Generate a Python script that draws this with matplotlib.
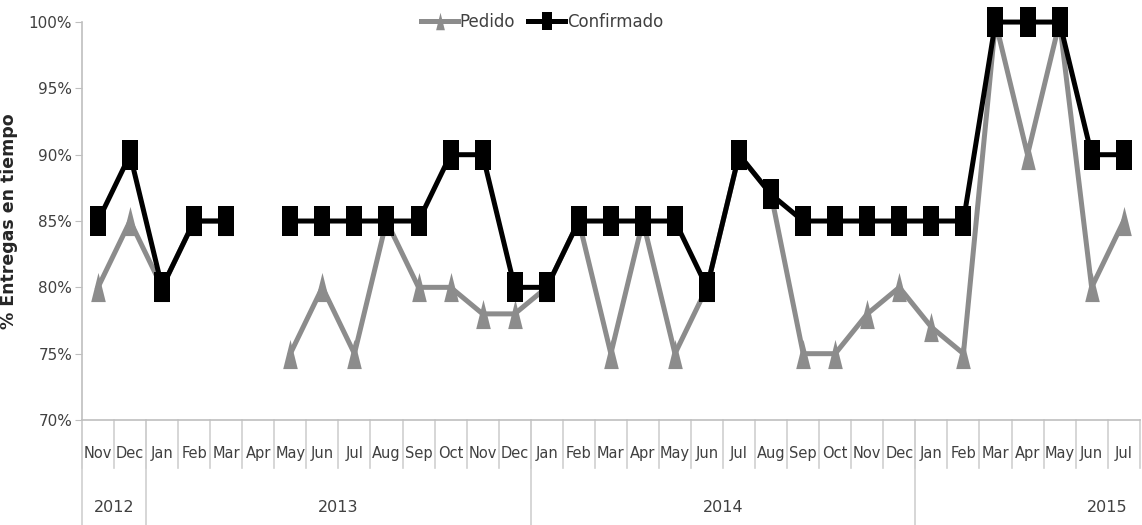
import numpy as np
import matplotlib.pyplot as plt
from matplotlib.transforms import blended_transform_factory

plt.rcParams['font.family'] = ['DejaVu Sans']

months = ['Nov', 'Dec',
          'Jan', 'Feb', 'Mar', 'Apr', 'May', 'Jun', 'Jul', 'Aug', 'Sep', 'Oct', 'Nov', 'Dec',
          'Jan', 'Feb', 'Mar', 'Apr', 'May', 'Jun', 'Jul', 'Aug', 'Sep', 'Oct', 'Nov', 'Dec',
          'Jan', 'Feb', 'Mar', 'Apr', 'May', 'Jun', 'Jul']
years = ['2012', '2013', '2014', '2015']
months_per_year = [2, 12, 12, 7]

nan = np.nan
pedido = [80, 85,
          80, 85, 85, nan, 75, 80, 75, 85, 80, 80, 78, 78,
          80, 85, 75, 85, 75, 80, 90, 87, 75, 75, 78, 80,
          77, 75, 100, 90, 100, 80, 85]
confirmado = [85, 90,
              80, 85, 85, nan, 85, 85, 85, 85, 85, 90, 90, 80,
              80, 85, 85, 85, 85, 80, 90, 87, 85, 85, 85, 85,
              85, 85, 100, 100, 100, 90, 90]

x = np.arange(len(months))

# tall rectangle / tall triangle markers
square_mk = [(-1, -2), (1, -2), (1, 2), (-1, 2), (-1, -2)]
tri_mk = [(-1, -2), (1, -2), (0, 2), (-1, -2)]

fig = plt.figure(figsize=(11.42, 5.25), dpi=100)
ax = fig.add_axes([0.0718, 0.2, 0.9262, 0.758])

ax.plot(x, pedido, color='#8c8c8c', lw=3.6, marker=tri_mk, ms=21,
        markeredgewidth=0, label='Pedido', zorder=2, clip_on=False)
ax.plot(x, confirmado, color='black', lw=3.6, marker=square_mk, ms=22,
        markeredgewidth=0, label='Confirmado', zorder=3, clip_on=False)

ax.set_xlim(-0.5, len(months) - 0.5)
ax.set_ylim(70, 100)
ax.set_yticks(np.arange(70, 101, 5))
ax.set_yticklabels([f'{v}%' for v in range(70, 101, 5)], fontsize=11, color='#404040')
ax.tick_params(axis='y', length=5, color='#bfbfbf', pad=2)
ax.set_xticks([])

for side in ['top', 'right']:
    ax.spines[side].set_visible(False)
ax.spines['left'].set_color('#bfbfbf')
ax.spines['bottom'].set_color('#bfbfbf')
ax.spines['left'].set_linewidth(1.2)
ax.spines['bottom'].set_linewidth(1.2)

ax.set_ylabel('% Entregas en tiempo', fontsize=12.5, fontweight='bold',
              color='#262626', labelpad=8)

# two-level category axis
trans = blended_transform_factory(ax.transData, ax.transAxes)
for i, m in enumerate(months):
    ax.text(i, -0.085, m, transform=trans, ha='center', va='center',
            fontsize=10.5, color='#404040')
sep_color = '#d0d0d0'
for b in np.arange(len(months) + 1) - 0.5:
    ax.plot([b, b], [0, -0.12], transform=trans, color=sep_color, lw=1.2, clip_on=False)

start = 0
for yr, n in zip(years, months_per_year):
    ax.plot([start - 0.5, start - 0.5], [0, -0.27], transform=trans, color=sep_color,
            lw=1.2, clip_on=False)
    centre = start + (n - 1) / 2
    if n < 12 and start > 0:
        centre = start + 5.5
    ax.text(centre, -0.22, yr, transform=trans, ha='center', va='center',
            fontsize=11.5, color='#404040')
    start += n

ax.legend(loc='center', bbox_to_anchor=(0.435, 1.0), ncol=2, frameon=False,
          fontsize=12, handlelength=2.2, handletextpad=0.1, columnspacing=0.8,
          markerscale=0.6, labelcolor='#404040')

fig.savefig('out.png', dpi=100)
